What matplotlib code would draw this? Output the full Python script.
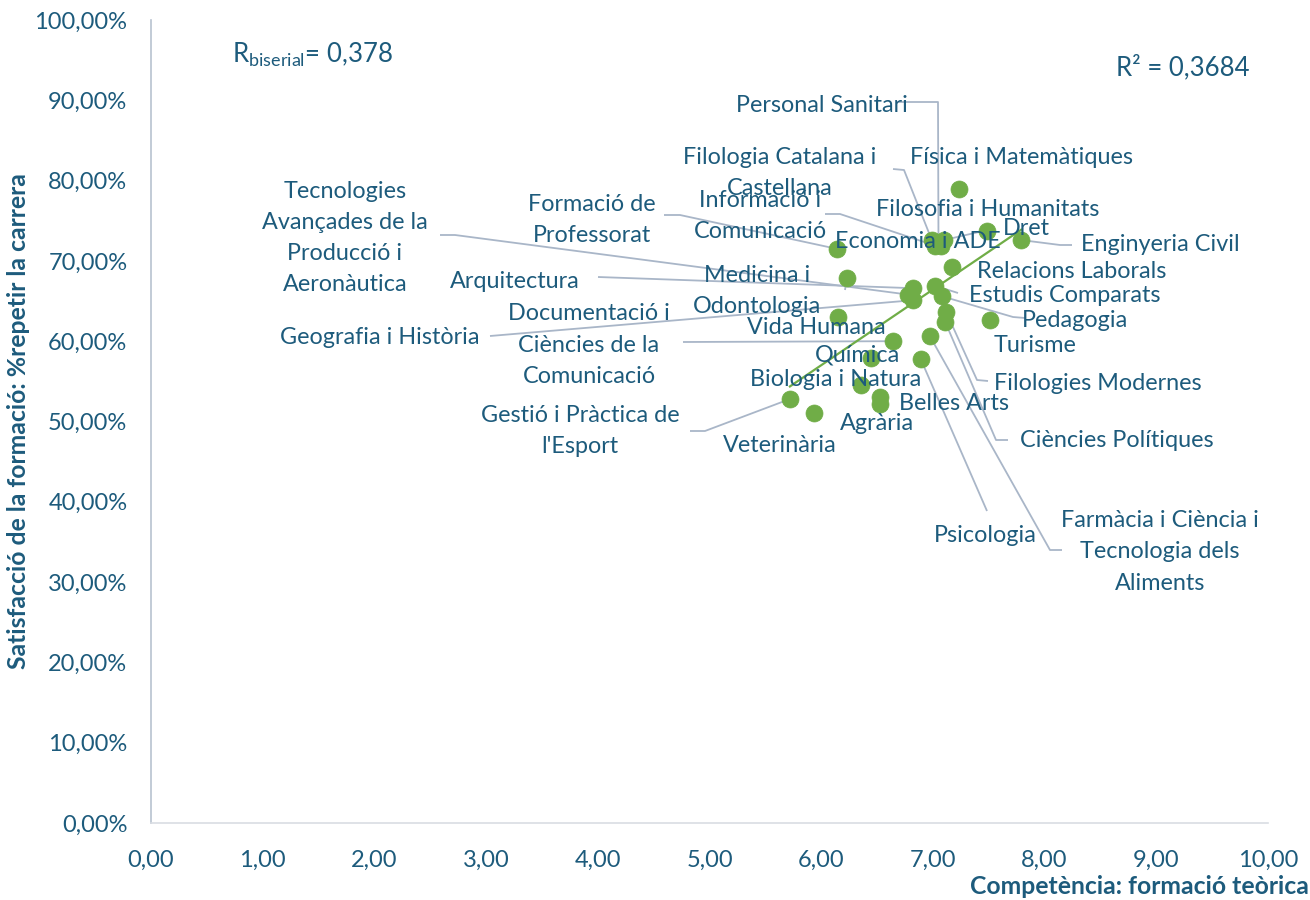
import matplotlib
matplotlib.use("Agg")
import matplotlib.pyplot as plt
import numpy as np

# ---------------- data ----------------
names = [
    "Personal Sanitari", "Filologia Catalana i\nCastellana", "Filosofia i Humanitats",
    "Informació i\nComunicació", "Economia i ADE", "Física i Matemàtiques", "Dret",
    "Enginyeria Civil", "Formació de\nProfessorat", "Relacions Laborals",
    "Medicina i\nOdontologia", "Arquitectura",
    "Tecnologies\nAvançades de la\nProducció i\nAeronàutica", "Geografia i Història",
    "Estudis Comparats", "Pedagogia", "Vida Humana",
    "Documentació i\nCiències de la\nComunicació", "Farmàcia i Ciència i\nTecnologia dels\nAliments",
    "Filologies Modernes", "Ciències Polítiques", "Turisme", "Química", "Psicologia",
    "Biologia i Natura", "Belles Arts", "Agrària", "Gestió i Pràctica de\nl'Esport",
    "Veterinària",
]
x_vals = [7.05, 6.99, 7.10, 7.02, 7.07, 7.23, 7.48, 7.79, 6.14, 7.17,
          6.23, 6.82, 6.78, 6.82, 7.02, 7.08, 6.15, 6.64, 6.97, 7.12,
          7.11, 7.51, 6.45, 6.89, 6.36, 6.53, 6.53, 5.72, 5.94]
y_vals = [72.2, 72.6, 72.6, 71.9, 71.8, 79.0, 73.7, 72.6, 71.5, 69.2,
          67.9, 66.6, 65.8, 65.1, 66.9, 65.6, 63.0, 60.0, 60.7, 63.6,
          62.4, 62.6, 57.9, 57.8, 54.5, 53.1, 52.2, 52.8, 51.1]
x_ticks = [0, 1, 2, 3, 4, 5, 6, 7, 8, 9, 10]
y_ticks = [0, 10, 20, 30, 40, 50, 60, 70, 80, 90, 100]
r_biserial_text = "0,378"
r2_text = "R² = 0,3684"
x_title = "Competència: formació teòrica"
y_title = "Satisfacció de la formació: %repetir la carrera"

# ---------------- layout (pixel positions of labels / leader elbows) ----------------
W, H = 1310, 900
AX_L, AX_R, AX_T, AX_B = 151, 1268, 20, 823
label_layout = {
    "Personal Sanitari": ((822, 105), [(897, 102), (938, 102)]),
    "Filologia Catalana i\nCastellana": ((780, 173), [(893, 169), (904, 170)]),
    "Filosofia i Humanitats": ((988, 210), [(992, 229)]),
    "Informació i\nComunicació": ((760, 216), [(825, 214), (840, 214)]),
    "Economia i ADE": ((918, 241), None),
    "Física i Matemàtiques": ((1021, 158), None),
    "Dret": ((1026, 228), None),
    "Enginyeria Civil": ((1160, 245), [(1072, 245), (1060, 245)]),
    "Formació de\nProfessorat": ((592, 220), [(664, 215), (680, 215)]),
    "Relacions Laborals": ((1072, 272), None),
    "Medicina i\nOdontologia": ((757, 291), [(845, 290)]),
    "Arquitectura": ((515, 282), [(598, 277)]),
    "Tecnologies\nAvançades de la\nProducció i\nAeronàutica": ((345, 238), [(440, 235), (455, 235)]),
    "Geografia i Història": ((380, 337), [(490, 336)]),
    "Estudis Comparats": ((1065, 295), [(958, 293)]),
    "Pedagogia": ((1075, 320), [(1025, 318), (1013, 317)]),
    "Vida Humana": ((816, 328), None),
    "Documentació i\nCiències de la\nComunicació": ((589, 345), [(683, 342)]),
    "Farmàcia i Ciència i\nTecnologia dels\nAliments": ((1160, 552), [(1062, 550), (1050, 550)]),
    "Filologies Modernes": ((1098, 383), [(988, 381), (977, 380)]),
    "Ciències Polítiques": ((1117, 440), [(1008, 440), (996, 440)]),
    "Turisme": ((1035, 345), None),
    "Química": ((857, 355), None),
    "Psicologia": ((985, 535), [(987, 511)]),
    "Biologia i Natura": ((836, 379), None),
    "Belles Arts": ((954, 403), None),
    "Agrària": ((877, 423), None),
    "Gestió i Pràctica de\nl'Esport": ((580, 431), [(690, 431), (705, 431)]),
    "Veterinària": ((780, 445), None),
}

TXT = "#1d5b7c"
GREEN = "#70ad47"
LEAD = "#a9b6c8"
FONT = "Lato"
FS = 16.8

plt.rcParams["font.family"] = [FONT, "DejaVu Sans"]
plt.rcParams["mathtext.fontset"] = "custom"
plt.rcParams["mathtext.rm"] = FONT
plt.rcParams["mathtext.it"] = FONT

fig = plt.figure(figsize=(W / 100, H / 100), dpi=100)
ax = fig.add_axes([AX_L / W, 1 - AX_B / H, (AX_R - AX_L) / W, (AX_B - AX_T) / H])
ax.set_xlim(0, 10)
ax.set_ylim(0, 100)


def px2data(px, py):
    return ((px - AX_L) / (AX_R - AX_L) * 10, (AX_B - py) / (AX_B - AX_T) * 100)


# leaders
for n, xv, yv in zip(names, x_vals, y_vals):
    pos, path = label_layout[n]
    if path:
        pts = [px2data(*p) for p in path] + [(xv, yv)]
        ax.plot([p[0] for p in pts], [p[1] for p in pts], color=LEAD, lw=1.3,
                zorder=2, clip_on=False, solid_capstyle="butt")

# points
ax.scatter(x_vals, y_vals, s=150, color=GREEN, edgecolors=GREEN, linewidths=0.5, zorder=3)

# trendline
coef = np.polyfit(x_vals, y_vals, 1)
xt = np.array([min(x_vals), max(x_vals)])
ax.plot(xt, np.polyval(coef, xt), color=GREEN, lw=1.6, zorder=4)

# labels
for n in names:
    (px, py), _ = label_layout[n]
    fig.text(px / W, 1 - py / H, n, ha="center", va="center", color=TXT,
             fontsize=FS, linespacing=1.6, zorder=5)

# annotations
fig.text(232 / W, 1 - 55 / H, r"R$_{\mathrm{biserial}}$= " + r_biserial_text,
         ha="left", va="center", color=TXT, fontsize=18.5)
fig.text(1183 / W, 1 - 67 / H, r2_text, ha="center", va="center", color=TXT, fontsize=18.5)

# axes styling
ax.set_xticks(x_ticks)
ax.set_yticks(y_ticks)
ax.set_xticklabels([f"{v:.2f}".replace(".", ",") for v in x_ticks])
ax.set_yticklabels([f"{v:.2f}%".replace(".", ",") for v in y_ticks])
ax.tick_params(length=0, labelsize=17, labelcolor=TXT)
ax.tick_params(axis="x", pad=19)
ax.tick_params(axis="y", pad=17)
for s in ["top", "right"]:
    ax.spines[s].set_visible(False)
ax.spines["left"].set_color("#b8c2d0")
ax.spines["left"].set_linewidth(1.2)
ax.spines["bottom"].set_color("#d9dde3")
ax.spines["bottom"].set_linewidth(1.2)

fig.text(1309 / W, 1 - 887 / H, x_title, ha="right", va="center", color=TXT,
         fontsize=17.8, fontweight="bold")
fig.text(19 / W, 1 - 421 / H, y_title, ha="center", va="center", rotation=90,
         color=TXT, fontsize=17.8, fontweight="bold")

fig.savefig("out.png", dpi=100)
